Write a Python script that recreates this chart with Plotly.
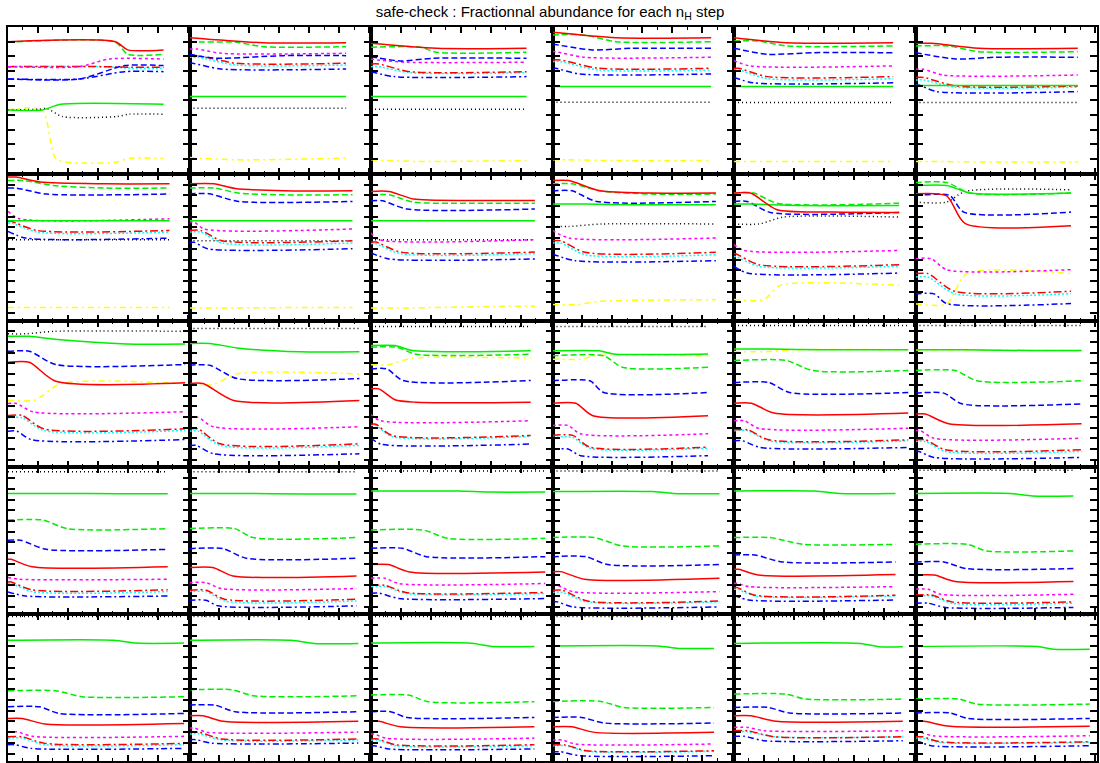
import plotly.graph_objects as go
from plotly.subplots import make_subplots

# ---------------------------------------------------------------------------
# Data.  y = log10(fractional abundance),
# x = fraction of the run (each panel = one n_H step).  Curve spec:
#   number            -> constant value
#   (a, b, t0, t1)    -> value a until t0, value b from t1 on
#   [(x, y), ...]     -> explicit key points
# ---------------------------------------------------------------------------
SPECIES = ["y", "k", "B", "c", "r", "m", "b", "g", "G", "R"]   # draw order
COLORS = {"R": "#ff0000", "G": "#00ee00", "g": "#00ee00", "b": "#0000ff",
          "m": "#ff00ff", "k": "#000000", "r": "#ff0000", "c": "#00ffff",
          "B": "#0000ff", "y": "#ffff00"}
DASHES = {"R": "solid", "G": "solid", "g": "6px,3px", "b": "6px,3px",
          "m": "3px,3px", "k": "1px,3px", "r": "8px,3px,2px,3px",
          "c": "2px,2px", "B": "6px,3px,2px,3px", "y": "6px,4px,2px,4px"}

RUN_END = [0.857, 0.863, 0.857, 0.874, 0.877, 0.894,
           0.89, 0.898, 0.903, 0.90, 0.91, 0.857,
           0.976, 0.936, 0.88, 0.857, 0.96, 0.915,
           0.88, 0.92, 0.96, 0.92, 0.89, 0.87,
           0.97, 0.93, 0.90, 0.89, 0.93, 0.96]

PANELS = [
    # row 1
    {"R": (-1.0, -1.56, 0.69, 0.77), "g": (-1.04, -1.86, 0.69, 0.77),
     "m": (-2.7, -2.18, 0.46, 0.65), "r": (-2.7, -2.74, 0.6, 0.8),
     "c": (-2.7, -2.81, 0.6, 0.8), "b": (-3.54, -2.63, 0.46, 0.75),
     "B": (-3.54, -3.04, 0.46, 0.75), "G": (-5.65, -5.27, 0.22, 0.34),
     "k": [(0, -5.65), (0.2, -5.6), (0.25, -5.55), (0.35, -6.1), (0.7, -6.1), (0.78, -5.94), (1, -5.94)],
     "y": [(0, -5.65), (0.22, -5.65), (0.31, -9.0), (0.5, -9.27), (0.7, -9.2), (0.78, -8.95), (1, -8.95)]},
    {"R": [(0, -0.73), (0.47, -1.07), (1, -1.07)], "g": (-1.04, -1.34, 0.3, 0.47),
     "m": (-1.5, -1.79, 0.05, 0.2), "b": [(0, -1.86), (0.17, -2.13), (0.6, -1.95), (1, -1.95)],
     "r": (-1.95, -2.47, 0.05, 0.3), "c": (-2.06, -2.59, 0.05, 0.3),
     "B": (-2.47, -2.86, 0.02, 0.2), "G": -4.74, "k": -5.53,
     "y": [(0, -8.89), (0.3, -9.05), (1, -8.93)]},
    {"R": [(0, -1.11), (0.42, -1.45), (1, -1.45)], "g": (-1.38, -1.72, 0.32, 0.42),
     "b": [(0, -2.02), (0.19, -2.31), (0.4, -2.13), (1, -2.13)],
     "m": (-2.2, -2.4, 0.0, 0.23), "r": (-2.52, -3.04, 0.05, 0.25),
     "c": (-2.7, -3.11, 0.05, 0.25), "B": (-3.04, -3.38, 0.0, 0.15),
     "G": -4.74, "k": -5.6, "y": [(0, -9.05), (0.3, -9.16), (1, -9.1)]},
    {"R": [(0, -0.36), (0.4, -0.73), (1, -0.73)], "g": (-0.54, -1.0, 0.2, 0.4),
     "b": [(0, -1.16), (0.25, -1.56), (0.5, -1.45), (1, -1.45)],
     "m": (-1.68, -2.06, 0.02, 0.2), "r": (-2.24, -2.81, 0.05, 0.29),
     "c": (-2.36, -2.93, 0.05, 0.29), "B": (-2.81, -3.2, 0.02, 0.17),
     "G": -4.06, "k": -5.12, "y": (-9.05, -9.1, 0.1, 0.4)},
    {"R": [(0, -0.73), (0.33, -1.07), (1, -1.07)], "g": (-0.95, -1.29, 0.15, 0.33),
     "b": [(0, -1.45), (0.21, -1.86), (0.5, -1.75), (1, -1.75)],
     "m": (-2.29, -2.65, 0.0, 0.1), "r": (-2.81, -3.38, 0.03, 0.21),
     "c": (-2.93, -3.52, 0.03, 0.21), "B": (-3.44, -3.8, 0.0, 0.12),
     "G": -4.06, "k": -5.15, "y": -9.16},
    {"R": (-1.11, -1.45, 0.1, 0.39), "g": (-1.29, -1.68, 0.2, 0.39),
     "b": [(0, -1.75), (0.25, -2.18), (0.5, -2.06), (1, -2.06)],
     "m": (-2.88, -3.27, 0.05, 0.17), "r": (-3.44, -4.02, 0.05, 0.25),
     "c": (-3.61, -4.1, 0.05, 0.25), "G": -3.99, "B": (-3.95, -4.4, 0.02, 0.13),
     "k": -5.15, "y": (-9.16, -9.2, 0.1, 0.5)},
    # row 2
    {"R": [(0, -0.22), (0.05, -0.22), (0.2, -0.56), (0.6, -0.68), (1, -0.68)],
     "g": [(0, -0.46), (0.1, -0.46), (0.28, -0.8), (0.6, -0.97), (1, -0.97)],
     "b": (-0.97, -1.38, 0.05, 0.24), "m": (-2.56, -3.06, 0.0, 0.07), "G": -3.2,
     "r": (-3.24, -3.86, 0.02, 0.18), "c": (-3.35, -3.97, 0.02, 0.18),
     "B": (-3.92, -4.38, 0.0, 0.11), "k": -4.49, "y": -9.1},
    {"R": [(0, -0.68), (0.15, -0.68), (0.28, -1.0), (0.58, -1.16), (1, -1.16)],
     "g": [(0, -0.97), (0.15, -0.97), (0.3, -1.31), (0.55, -1.43), (1, -1.43)],
     "b": (-1.36, -1.88, 0.12, 0.3), "G": -3.2, "m": (-3.29, -3.76, 0.03, 0.09),
     "r": (-3.86, -4.56, 0.07, 0.2), "k": -4.56, "c": (-3.97, -4.71, 0.07, 0.2),
     "B": (-4.67, -5.1, 0.03, 0.11), "y": (-9.14, -9.1, 0.2, 0.8)},
    {"R": [(0, -1.2), (0.11, -1.2), (0.26, -1.72), (0.6, -1.82), (1, -1.82)],
     "g": [(0, -1.43), (0.11, -1.43), (0.26, -1.93), (0.6, -2.0), (1, -2.0)],
     "b": (-1.84, -2.4, 0.07, 0.22), "G": -3.2, "m": (-4.04, -4.49, 0.0, 0.05),
     "k": -4.49, "r": (-4.65, -5.33, 0.03, 0.18), "c": (-4.76, -5.44, 0.03, 0.18),
     "B": (-5.39, -5.8, 0.0, 0.11), "y": (-9.14, -9.03, 0.2, 0.8)},
    {"R": [(0, -0.46), (0.1, -0.46), (0.29, -1.16), (0.6, -1.31), (1, -1.31)],
     "g": [(0, -0.68), (0.12, -0.68), (0.29, -1.16), (0.6, -1.38), (1, -1.38)],
     "b": (-1.16, -1.88, 0.12, 0.27), "G": (-2.06, -2.11, 0.2, 0.5),
     "k": (-3.59, -3.42, 0.1, 0.3), "m": (-3.86, -4.37, 0.0, 0.1),
     "r": (-4.56, -5.35, 0.05, 0.2), "c": (-4.71, -5.51, 0.05, 0.2),
     "B": (-5.46, -5.92, 0.0, 0.14),
     "y": [(0, -8.91), (0.15, -8.91), (0.29, -8.69), (1, -8.57)]},
    {"g": (-1.31, -2.0, 0.12, 0.26),
     "R": [(0, -1.31), (0.1, -1.31), (0.26, -2.45), (0.6, -2.6), (1, -2.63)],
     "G": (-2.06, -2.16, 0.1, 0.4), "b": (-1.88, -2.63, 0.08, 0.22),
     "k": (-3.42, -2.95, 0.15, 0.3), "m": (-4.83, -5.22, 0.0, 0.06),
     "r": (-5.44, -6.19, 0.01, 0.15), "c": (-5.63, -6.3, 0.01, 0.15),
     "B": (-6.3, -6.76, 0.0, 0.08), "y": (-8.57, -7.6, 0.18, 0.28)},
    {"g": (-0.59, -1.31, 0.2, 0.35), "G": (-0.8, -1.31, 0.2, 0.35),
     "k": [(0, -1.93), (0.2, -1.93), (0.32, -1.2), (1, -1.09)],
     "R": [(0, -1.36), (0.2, -1.5), (0.32, -3.4), (1, -3.54)],
     "b": (-1.48, -2.61, 0.22, 0.31), "m": (-5.78, -6.53, 0.1, 0.2),
     "r": (-6.8, -8.0, 0.08, 0.25), "c": (-7.03, -8.16, 0.08, 0.25),
     "B": (-8.18, -8.84, 0.12, 0.2), "y": (-8.86, -6.8, 0.2, 0.33)},
    # row 3
    {"k": (-0.9, -0.73, 0.1, 0.26),
     "G": [(0, -1.07), (0.12, -1.07), (0.28, -1.29), (0.67, -1.59), (1, -1.59)],
     "b": (-2.09, -2.99, 0.12, 0.27),
     "R": [(0, -2.84), (0.12, -2.84), (0.27, -4.13), (1, -4.24)],
     "y": (-5.42, -4.29, 0.15, 0.3), "m": (-5.65, -6.21, 0.05, 0.14),
     "r": (-6.46, -7.37, 0.08, 0.2), "c": (-6.62, -7.48, 0.08, 0.2),
     "B": (-7.53, -8.1, 0.05, 0.13)},
    {"k": -0.54,
     "G": [(0, -1.56), (0.12, -1.56), (0.28, -1.86), (0.65, -2.13), (1, -2.13)],
     "y": (-4.35, -3.63, 0.14, 0.28), "b": (-3.04, -3.95, 0.12, 0.28),
     "R": (-4.29, -5.44, 0.08, 0.26), "m": (-6.58, -7.23, 0.05, 0.14),
     "r": (-7.37, -8.39, 0.05, 0.18), "c": (-7.53, -8.5, 0.05, 0.18),
     "B": (-8.5, -9.07, 0.04, 0.14)},
    {"k": -0.41, "G": [(0, -1.7), (0.15, -1.7), (0.26, -2.04), (1, -2.06)],
     "g": (-1.81, -2.29, 0.16, 0.28), "y": (-3.01, -2.56, 0.1, 0.26),
     "b": (-3.29, -4.08, 0.1, 0.2),
     "R": [(0, -4.65), (0.05, -4.65), (0.15, -5.39), (0.28, -5.56), (1, -5.56)],
     "m": (-6.4, -6.82, 0.0, 0.06), "r": (-7.06, -7.82, 0.03, 0.13),
     "c": (-7.14, -7.89, 0.03, 0.13), "B": (-8.0, -8.41, 0.0, 0.06)},
    {"k": -0.41, "G": (-2.06, -2.27, 0.3, 0.39), "y": (-2.63, -2.4, 0.18, 0.27),
     "g": (-2.4, -3.18, 0.33, 0.45), "b": (-4.1, -4.9, 0.24, 0.33),
     "R": (-5.63, -6.48, 0.15, 0.26), "m": (-7.14, -7.71, 0.1, 0.18),
     "r": (-7.82, -8.62, 0.13, 0.24), "c": (-7.96, -8.69, 0.13, 0.24),
     "B": (-8.75, -9.2, 0.1, 0.18)},
    {"k": -0.34, "G": (-1.93, -1.99, 0.2, 0.5), "y": (-2.11, -1.99, 0.2, 0.34),
     "g": (-2.72, -3.4, 0.3, 0.45), "b": (-4.22, -4.9, 0.2, 0.32),
     "R": (-5.63, -6.3, 0.1, 0.23), "m": (-6.82, -7.33, 0.06, 0.14),
     "r": (-7.44, -8.12, 0.08, 0.2), "c": (-7.5, -8.19, 0.08, 0.2),
     "B": (-8.19, -8.64, 0.05, 0.15)},
    {"k": -0.34, "G": (-1.99, -2.04, 0.3, 0.7), "y": (-2.0, -2.04, 0.3, 0.7),
     "g": (-3.4, -4.1, 0.24, 0.37), "b": (-4.94, -5.67, 0.17, 0.28),
     "R": (-6.37, -7.03, 0.06, 0.2), "m": (-7.5, -8.01, 0.03, 0.11),
     "r": (-8.12, -8.8, 0.06, 0.18), "c": (-8.23, -8.91, 0.06, 0.18),
     "B": (-8.91, -9.32, 0.02, 0.11)},
    # row 4
    {"k": -0.29, "G": (-1.77, -1.79, 0.3, 0.7), "g": (-3.59, -4.17, 0.22, 0.37),
     "b": (-4.97, -5.58, 0.08, 0.24), "R": (-6.26, -6.76, 0.02, 0.15),
     "m": (-7.5, -7.62, 0.0, 0.07), "r": (-7.8, -8.34, 0.02, 0.15),
     "c": (-7.89, -8.46, 0.02, 0.15), "B": (-8.48, -8.76, 0.0, 0.11)},
    {"k": -0.29, "G": (-1.77, -1.82, 0.3, 0.7), "g": (-4.17, -4.78, 0.27, 0.38),
     "b": (-5.53, -6.19, 0.2, 0.34), "R": (-6.82, -7.39, 0.14, 0.26),
     "m": (-7.85, -8.25, 0.1, 0.19), "r": (-8.37, -8.98, 0.1, 0.21),
     "c": (-8.46, -9.1, 0.1, 0.21), "B": (-9.05, -9.43, 0.1, 0.17)},
    {"k": -0.25, "G": (-1.61, -1.68, 0.5, 0.68), "g": (-4.27, -4.83, 0.3, 0.44),
     "b": (-5.51, -6.08, 0.18, 0.32), "R": (-6.62, -7.12, 0.1, 0.22),
     "m": (-7.55, -7.91, 0.08, 0.16), "r": (-8.03, -8.52, 0.08, 0.2),
     "c": (-8.12, -8.59, 0.08, 0.2), "B": (-8.57, -8.93, 0.05, 0.16)},
    {"k": -0.25, "G": (-1.65, -1.79, 0.6, 0.75), "g": (-4.78, -5.35, 0.25, 0.42),
     "b": (-6.08, -6.62, 0.2, 0.33),
     "R": [(0, -7.1), (0.05, -7.1), (0.19, -7.62), (1, -7.55)],
     "m": (-8.03, -8.46, 0.03, 0.12), "r": (-8.37, -9.1, 0.06, 0.21),
     "c": (-8.52, -9.16, 0.06, 0.21), "B": (-9.16, -9.5, 0.03, 0.12)},
    {"k": -0.2, "G": (-1.61, -1.77, 0.5, 0.65), "g": (-4.78, -5.24, 0.22, 0.43),
     "b": (-5.97, -6.44, 0.13, 0.3),
     "R": [(0, -6.94), (0.03, -6.94), (0.15, -7.33), (1, -7.3)],
     "m": (-7.89, -8.12, 0.02, 0.09), "r": (-8.19, -8.71, 0.02, 0.13),
     "c": (-8.3, -8.76, 0.02, 0.13), "B": (-8.71, -9.03, 0.0, 0.09)},
    {"k": -0.2, "G": (-1.77, -1.95, 0.6, 0.74), "g": (-5.24, -5.69, 0.33, 0.45),
     "b": (-6.44, -6.89, 0.18, 0.32), "R": (-7.33, -7.77, 0.12, 0.25),
     "m": (-8.3, -8.64, 0.08, 0.16), "r": (-8.69, -9.16, 0.1, 0.23),
     "c": (-8.76, -9.25, 0.1, 0.23), "B": (-9.25, -9.54, 0.08, 0.19)},
    # row 5
    {"k": -0.16, "G": (-1.77, -1.97, 0.6, 0.73), "g": (-5.22, -5.62, 0.27, 0.42),
     "b": (-6.31, -6.76, 0.18, 0.29),
     "R": [(0, -7.1), (0.08, -7.1), (0.21, -7.48), (1, -7.44)],
     "m": (-8.01, -8.32, 0.05, 0.14), "r": (-8.35, -8.8, 0.08, 0.21),
     "c": (-8.44, -8.89, 0.08, 0.21), "B": (-8.89, -9.14, 0.04, 0.13)},
    {"k": -0.16, "G": (-1.77, -1.99, 0.6, 0.74), "g": (-5.15, -5.56, 0.25, 0.38),
     "b": (-6.19, -6.64, 0.15, 0.27), "R": (-6.92, -7.3, 0.08, 0.2),
     "m": (-7.76, -8.03, 0.03, 0.1), "r": (-8.05, -8.5, 0.06, 0.19),
     "c": (-8.16, -8.57, 0.06, 0.19), "B": (-8.55, -8.78, 0.04, 0.13)},
    {"k": -0.16, "G": (-1.97, -2.2, 0.6, 0.75), "g": (-5.51, -5.96, 0.23, 0.35),
     "b": (-6.64, -7.03, 0.12, 0.22), "R": (-7.3, -7.67, 0.05, 0.18),
     "m": (-8.16, -8.44, 0.02, 0.09), "r": (-8.5, -8.89, 0.04, 0.15),
     "c": (-8.57, -8.96, 0.04, 0.15), "B": (-8.96, -9.18, 0.02, 0.11)},
    {"k": -0.16, "G": (-2.16, -2.33, 0.65, 0.78), "g": (-5.94, -6.35, 0.3, 0.44),
     "b": (-7.03, -7.41, 0.18, 0.32), "R": (-7.67, -8.05, 0.12, 0.26),
     "m": (-8.57, -8.84, 0.06, 0.14), "r": (-8.91, -9.3, 0.08, 0.21),
     "c": (-8.96, -9.34, 0.08, 0.21), "B": (-9.37, -9.64, 0.05, 0.17)},
    {"k": -0.16, "G": (-1.99, -2.22, 0.75, 0.86), "g": (-5.44, -5.78, 0.3, 0.43),
     "b": (-6.35, -6.73, 0.2, 0.33), "R": (-6.92, -7.3, 0.1, 0.25),
     "m": (-7.71, -7.94, 0.08, 0.18), "r": (-7.94, -8.35, 0.08, 0.24),
     "c": (-8.0, -8.35, 0.08, 0.24), "B": (-8.32, -8.62, 0.06, 0.18)},
    {"k": -0.11, "G": (-2.2, -2.38, 0.7, 0.79), "g": (-5.78, -6.12, 0.25, 0.35),
     "b": (-6.73, -7.1, 0.2, 0.3), "R": (-7.3, -7.64, 0.05, 0.2),
     "m": (-8.01, -8.28, 0.02, 0.1), "r": (-8.35, -8.69, 0.04, 0.14),
     "c": (-8.44, -8.73, 0.04, 0.14), "B": (-8.69, -8.96, 0.02, 0.09)},
]

ROW_YTICK = [1.0, 0.73, 0.73, 0.73, 0.73]
TITLE = "safe-check : Fractionnal abundance for each n<sub>H</sub> step"


def key_points(spec):
    if isinstance(spec, (int, float)):
        return [0.0, 1.0], [spec, spec]
    if isinstance(spec, tuple):
        a, b, t0, t1 = spec
        xs, ys = [0.0], [a]
        if t0 > 0:
            xs.append(t0); ys.append(a)
        xs += [t1, 1.0]; ys += [b, b]
        return xs, ys
    return [p[0] for p in spec], [p[1] for p in spec]


NR, NC = 5, 6
fig = make_subplots(rows=NR, cols=NC, horizontal_spacing=0, vertical_spacing=0)

for i, panel in enumerate(PANELS):
    row, col = i // NC + 1, i % NC + 1
    end = RUN_END[i]
    for sp in SPECIES:
        if sp not in panel:
            continue
        xs, ys = key_points(panel[sp])
        fig.add_trace(go.Scatter(
            x=[x * end for x in xs], y=ys, mode="lines",
            line=dict(color=COLORS[sp], dash=DASHES[sp], width=1.5,
                      shape="spline", smoothing=0.7),
            showlegend=False, hoverinfo="skip"), row=row, col=col)
    fig.update_xaxes(range=[0, 1], showticklabels=False, showgrid=False,
                     zeroline=False, showline=True, linewidth=2,
                     linecolor="black", mirror="ticks", ticks="inside",
                     ticklen=6, tickwidth=1.5, tickcolor="black",
                     tick0=0, dtick=0.165,
                     minor=dict(ticks="inside", ticklen=3, dtick=0.0825,
                                tickcolor="black", tickwidth=1, showgrid=False),
                     row=row, col=col)
    fig.update_yaxes(range=[-10, 0], showticklabels=False, showgrid=False,
                     zeroline=False, showline=True, linewidth=2,
                     linecolor="black", mirror="ticks", ticks="inside",
                     ticklen=7, tickwidth=1.5, tickcolor="black",
                     tick0=0, dtick=ROW_YTICK[row - 1],
                     row=row, col=col)

fig.update_layout(
    width=1100, height=763,
    margin=dict(l=8, r=1, t=27, b=2),
    paper_bgcolor="white", plot_bgcolor="white",
    font=dict(family="Liberation Sans, Arial, sans-serif", color="black"),
    title=dict(text=TITLE, x=0.5, xanchor="center", y=1 - 12 / 763,
               yanchor="middle", font=dict(size=15, color="black")),
    showlegend=False,
)

fig.write_html("out.html",
               config={"displayModeBar": False},
               post_script="document.body.style.margin='0';"
                           "document.body.style.overflow='hidden';")
